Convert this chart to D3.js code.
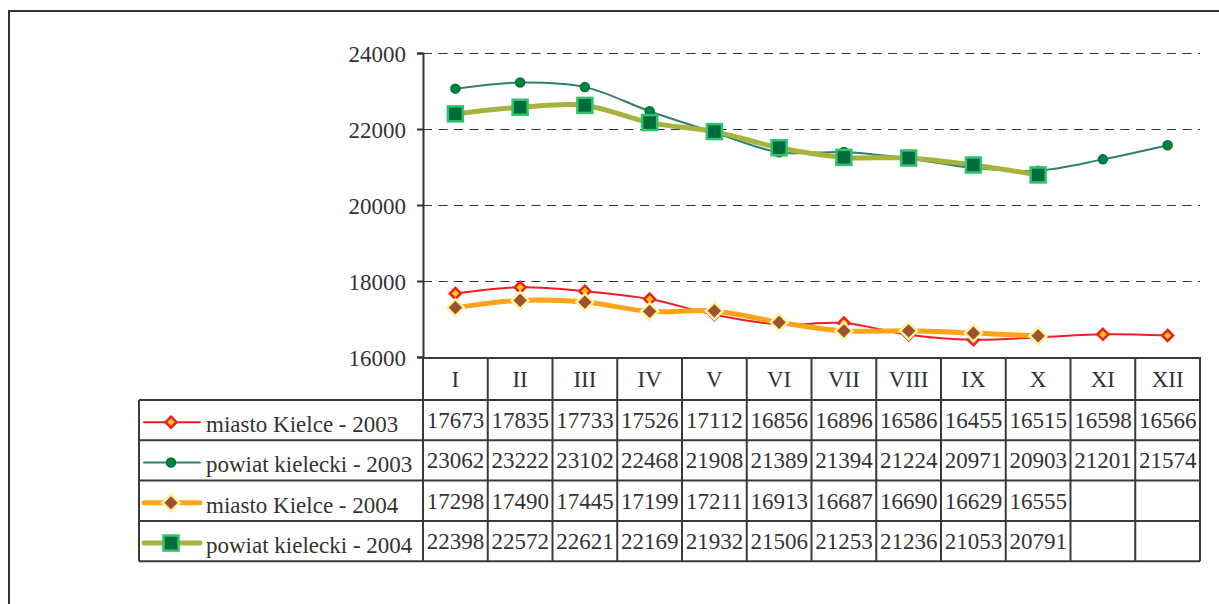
<!DOCTYPE html>
<html>
<head>
<meta charset="utf-8">
<script src="https://cdn.jsdelivr.net/npm/d3@7"></script>
<style>
  body { margin: 0; background: #fff; }
</style>
</head>
<body>
<svg width="1219" height="604"></svg>
<script>
var months = ["I", "II", "III", "IV", "V", "VI", "VII", "VIII", "IX", "X", "XI", "XII"];
var seriesNames = ["miasto Kielce - 2003", "powiat kielecki - 2003", "miasto Kielce - 2004", "powiat kielecki - 2004"];
var miasto2003 = [17673, 17835, 17733, 17526, 17112, 16856, 16896, 16586, 16455, 16515, 16598, 16566];
var powiat2003 = [23062, 23222, 23102, 22468, 21908, 21389, 21394, 21224, 20971, 20903, 21201, 21574];
var miasto2004 = [17298, 17490, 17445, 17199, 17211, 16913, 16687, 16690, 16629, 16555];
var powiat2004 = [22398, 22572, 22621, 22169, 21932, 21506, 21253, 21236, 21053, 20791];
var yTicks = [16000, 18000, 20000, 22000, 24000];

var serifFont = "'Liberation Serif', 'Times New Roman', serif";
var textColor = "#333";

var series = [
  { name: seriesNames[0], values: miasto2003, line: "#f21d24", width: 2, marker: "diamond", size: 11, fill: "#ffcc00", stroke: "#f21d24" },
  { name: seriesNames[1], values: powiat2003, line: "#2f7f73", width: 2, marker: "circle", size: 9, fill: "#00843d", stroke: "#00703a" },
  { name: seriesNames[2], values: miasto2004, line: "#ffa31a", width: 5, marker: "diamond", size: 17, fill: "#a0522d", stroke: "#fff3a6" },
  { name: seriesNames[3], values: powiat2004, line: "#a9b23c", width: 5, marker: "square", size: 15, fill: "#006b3f", stroke: "#2ec46a" }
];

var svg = d3.select("svg");

// outer frame (runs past the right and bottom edge)
svg.append("path")
  .attr("d", "M9,606V11H1221")
  .attr("fill", "none")
  .attr("stroke", "#333")
  .attr("stroke-width", 2);

var plot = { left: 423, right: 1200, top: 53, bottom: 357 };
var legendLeft = 139, headerBottom = 400, rowH = 40.3;

var x = d3.scaleBand().domain(months).range([plot.left, plot.right]);
var y = d3.scaleLinear().domain([16000, 24000]).range([plot.bottom, plot.top]);

function cx(i) { return x(months[i]) + x.bandwidth() / 2; }

function serif(sel) {
  return sel.style("font-family", serifFont).style("font-size", "23px").style("fill", textColor);
}

// gridlines
svg.append("g")
  .selectAll("line")
  .data(yTicks.slice(1))
  .enter().append("line")
  .attr("x1", plot.left).attr("x2", plot.right)
  .attr("y1", function(d) { return y(d) + 0.5; })
  .attr("y2", function(d) { return y(d) + 0.5; })
  .attr("stroke", "#333")
  .attr("stroke-width", 1.2)
  .attr("stroke-dasharray", "9,6.5");

// y axis
var yAxis = svg.append("g")
  .attr("transform", "translate(" + plot.left + ",0)")
  .call(d3.axisLeft(y).tickValues(yTicks).tickFormat(d3.format("d")).tickSize(6).tickPadding(11));
yAxis.select(".domain").attr("stroke", "#333").attr("stroke-width", 2);
yAxis.selectAll(".tick line").attr("stroke", "#333").attr("stroke-width", 2);
serif(yAxis.selectAll(".tick text")).attr("dy", "0.36em");

// lines
var line = d3.line()
  .x(function(d, i) { return cx(i); })
  .y(function(d) { return y(d); })
  .curve(d3.curveCatmullRom.alpha(0.5));

function drawMarker(g, s, mx, my) {
  var h = s.size / 2;
  if (s.marker === "circle") {
    g.append("circle").attr("cx", mx).attr("cy", my).attr("r", h)
      .attr("fill", s.fill).attr("stroke", s.stroke).attr("stroke-width", 1.5);
  } else if (s.marker === "square") {
    g.append("rect").attr("x", mx - h).attr("y", my - h).attr("width", s.size).attr("height", s.size)
      .attr("fill", s.fill).attr("stroke", s.stroke).attr("stroke-width", 2.5);
  } else {
    g.append("path")
      .attr("d", "M" + mx + "," + (my - h) + "L" + (mx + h) + "," + my + "L" + mx + "," + (my + h) + "L" + (mx - h) + "," + my + "Z")
      .attr("fill", s.fill).attr("stroke", s.stroke).attr("stroke-width", 2.5);
  }
}

series.forEach(function(s) {
  var g = svg.append("g");
  g.append("path")
    .datum(s.values)
    .attr("fill", "none")
    .attr("stroke", s.line)
    .attr("stroke-width", s.width)
    .attr("stroke-linejoin", "round")
    .attr("d", line);
  s.values.forEach(function(v, i) {
    drawMarker(g, s, cx(i), y(v));
  });
});

// data table
var table = svg.append("g");
var tableBottom = headerBottom + rowH * 4;

// header labels
serif(table.selectAll(".hdr")
  .data(months)
  .enter().append("text")
  .attr("class", "hdr")
  .attr("x", function(d, i) { return cx(i); })
  .attr("y", (plot.bottom + headerBottom) / 2 + 8)
  .attr("text-anchor", "middle")
  .text(function(d) { return d; }));

// grid of the table
var gridColor = "#3a3a3a";
table.append("line").attr("x1", plot.left).attr("x2", plot.right).attr("y1", plot.bottom + 1).attr("y2", plot.bottom + 1)
  .attr("stroke", gridColor).attr("stroke-width", 2);
d3.range(5).forEach(function(r) {
  var yy = headerBottom + r * rowH;
  table.append("line").attr("x1", legendLeft).attr("x2", plot.right).attr("y1", yy).attr("y2", yy)
    .attr("stroke", gridColor).attr("stroke-width", 2);
});
months.forEach(function(m) {
  table.append("line").attr("x1", x(m) + x.bandwidth()).attr("x2", x(m) + x.bandwidth())
    .attr("y1", plot.bottom).attr("y2", tableBottom)
    .attr("stroke", gridColor).attr("stroke-width", 2);
});
table.append("line").attr("x1", plot.left).attr("x2", plot.left).attr("y1", plot.bottom).attr("y2", tableBottom)
  .attr("stroke", gridColor).attr("stroke-width", 2);
table.append("line").attr("x1", legendLeft).attr("x2", legendLeft).attr("y1", headerBottom).attr("y2", tableBottom)
  .attr("stroke", gridColor).attr("stroke-width", 2);

// rows: legend key + values
series.forEach(function(s, r) {
  var my = headerBottom + r * rowH + rowH / 2;
  var g = table.append("g");
  g.append("line").attr("x1", 144).attr("x2", 200).attr("y1", my + 2).attr("y2", my + 2)
    .attr("stroke", s.line).attr("stroke-width", s.width).attr("stroke-linecap", "round");
  drawMarker(g, s, 171, my + 2);
  serif(g.append("text")
    .attr("x", 206)
    .attr("y", my + 12)
    .text(s.name));
  serif(g.selectAll(".val")
    .data(s.values)
    .enter().append("text")
    .attr("class", "val")
    .attr("x", function(d, i) { return cx(i); })
    .attr("y", my + 8)
    .attr("text-anchor", "middle")
    .text(function(d) { return d; }));
});
</script>
</body>
</html>
